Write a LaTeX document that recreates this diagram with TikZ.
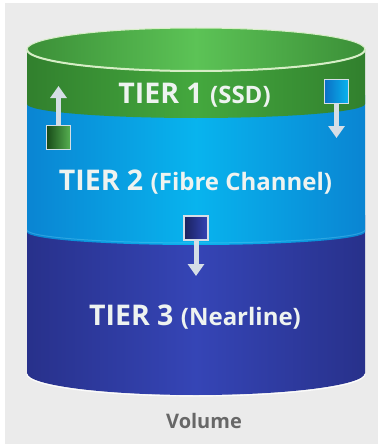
\documentclass[tikz,border=0pt]{standalone}
\usepackage{fontspec}
\setmainfont{Open Sans}
\usetikzlibrary{arrows.meta}

\definecolor{gA}{HTML}{1C4F1C}
\definecolor{gB}{HTML}{2E7A2B}
\definecolor{gC}{HTML}{5CC356}
\definecolor{hA}{HTML}{184A18}
\definecolor{hB}{HTML}{2A7027}
\definecolor{hC}{HTML}{44A83E}
\definecolor{bA}{HTML}{0D4A9A}
\definecolor{bB}{HTML}{0B70C6}
\definecolor{bC}{HTML}{08B4EE}
\definecolor{nA}{HTML}{131846}
\definecolor{nB}{HTML}{222878}
\definecolor{nC}{HTML}{3545B6}
\definecolor{pagegray}{HTML}{EBEBEB}
\definecolor{rimline}{HTML}{D6EEC6}
\definecolor{arrowgray}{HTML}{D5DEE6}
\definecolor{labeltext}{HTML}{EEF3F0}
\definecolor{captiongray}{HTML}{676767}

% horizontal colour ramps for the cylinder bands (dark rims, light middle)
\pgfdeclarehorizontalshading{capshade}{100bp}{%
  color(0bp)=(gA); color(15bp)=(gB); color(50bp)=(gC); color(85bp)=(gB); color(100bp)=(gA)}
\pgfdeclarehorizontalshading{greenshade}{100bp}{%
  color(0bp)=(hA); color(15bp)=(hB); color(50bp)=(hC); color(85bp)=(hB); color(100bp)=(hA)}
\pgfdeclarehorizontalshading{blueshade}{100bp}{%
  color(0bp)=(bA); color(14bp)=(bB); color(50bp)=(bC); color(86bp)=(bB); color(100bp)=(bA)}
\pgfdeclarehorizontalshading{navyshade}{100bp}{%
  color(0bp)=(nA); color(14bp)=(nB); color(50bp)=(nC); color(86bp)=(nB); color(100bp)=(nA)}

\tikzset{
  tierlabel/.style={anchor=base, text=labeltext, font=\bfseries, inner sep=0pt},
  iconbox/.style={minimum size=24pt, inner sep=0pt, draw=arrowgray, line width=1.8pt},
  moveline/.style={draw=arrowgray, line width=5pt,
    -{Triangle[width=16pt,length=12pt]}},
}
\newcommand{\tiername}{\fontsize{28.5}{32}\selectfont}
\newcommand{\tiermedia}{\fontsize{24}{28}\selectfont}

\begin{document}
\begin{tikzpicture}[x=1pt,y=-1pt]
  \useasboundingbox (0,0) rectangle (378,444);
  \fill[white] (0,0) rectangle (378,444);
  \fill[pagegray] (5,3) rectangle (378,444);

  % tier 3 band (bottom of the cylinder)
  \shade[shading=navyshade]
    (27,215) -- (27,373) arc[start angle=180, end angle=360, x radius=169pt, y radius=22pt]
    -- (365,215) -- cycle;
  \draw[white, line width=1.2pt, opacity=0.8]
    (27,374) arc[start angle=180, end angle=360, x radius=169pt, y radius=22pt];

  % tier 2 band
  \shade[shading=blueshade]
    (27,95) -- (27,232) arc[start angle=180, end angle=360, x radius=169pt, y radius=13pt]
    -- (365,95) -- cycle;
  \draw[cyan!60!white, line width=1pt, opacity=0.35]
    (27,230) arc[start angle=180, end angle=360, x radius=169pt, y radius=13pt];

  % tier 1 band
  \shade[shading=greenshade]
    (27,49.5) -- (27,104) arc[start angle=180, end angle=360, x radius=169pt, y radius=14pt]
    -- (365,49.5) -- cycle;

  % top cap of the cylinder
  \shade[shading=capshade] (196,49.5) ellipse [x radius=169pt, y radius=21.5pt];
  \draw[rimline, line width=1pt] (196,49.5) ellipse [x radius=169pt, y radius=21.5pt];
  \draw[rimline, line width=2pt]
    (27,49.5) arc[start angle=180, end angle=360, x radius=169pt, y radius=21.5pt];

  % labels
  \node[tierlabel] (t1) at (194.5,103) {\tiername TIER 1 \tiermedia(SSD)};
  \node[tierlabel] (t2) at (195.5,190) {\tiername TIER 2 \tiermedia(Fibre Channel)};
  \node[tierlabel] (t3) at (195,325) {\tiername TIER 3 \tiermedia(Nearline)};
  \node[anchor=base, text=captiongray, font=\bfseries\fontsize{20}{24}\selectfont, inner sep=0pt]
    (vol) at (204,428) {Volume};

  % blocks moving between tiers
  \node[iconbox, left color=hA, right color=hC!90!white] (up) at (58.5,137.5) {};
  \node[iconbox, left color=bB, right color=bC] (downA) at (336.5,91.5) {};
  \node[iconbox, left color=nA!80!nC, right color=nC] (downB) at (196,228) {};

  \coordinate (upTip) at (58.5,86);
  \coordinate (downATip) at (336.5,138);
  \coordinate (downBTip) at (196,276);

  \draw[moveline] (up.north) -- (upTip);
  \draw[moveline] (downA.south) -- (downATip);
  \draw[moveline] (downB.south) -- (downBTip);
\end{tikzpicture}
\end{document}
